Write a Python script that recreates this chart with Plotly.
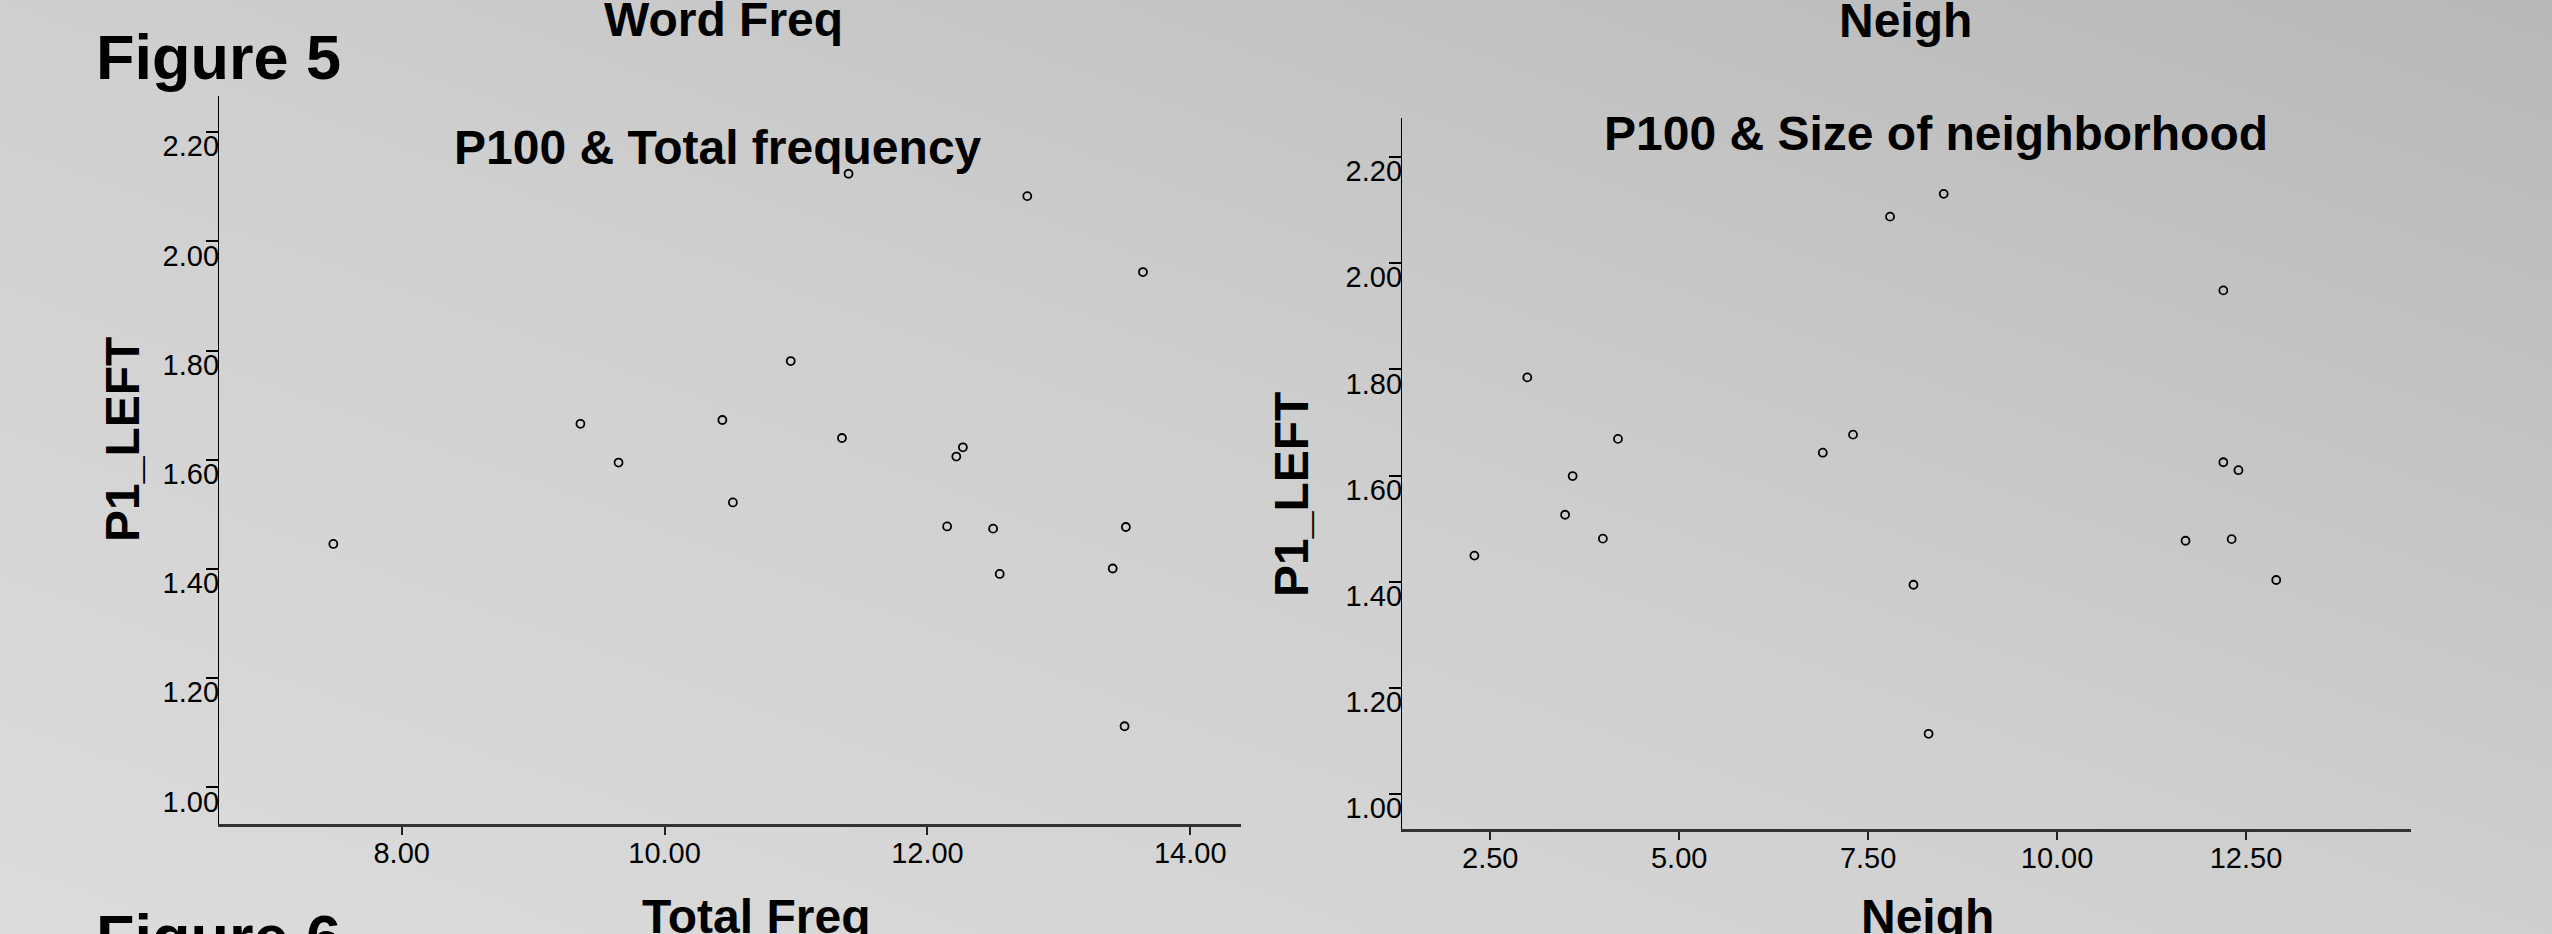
import base64
import plotly.graph_objects as go

# ---------------- data ----------------
freq_x = [11.40, 12.76, 13.64, 10.96, 9.36, 10.44, 11.35, 12.27, 12.22, 9.65,
          10.52, 7.48, 12.15, 12.50, 13.51, 12.55, 13.41, 13.50]
freq_y = [2.124, 2.083, 1.944, 1.781, 1.666, 1.673, 1.640, 1.623, 1.606, 1.595,
          1.522, 1.446, 1.478, 1.474, 1.477, 1.391, 1.401, 1.112]

neigh_x = [8.50, 7.79, 12.20, 2.99, 4.19, 7.30, 6.90, 12.20, 12.40, 3.59,
           3.49, 3.99, 2.29, 8.10, 11.70, 12.31, 12.90, 8.30]
neigh_y = [2.131, 2.088, 1.949, 1.785, 1.669, 1.677, 1.643, 1.625, 1.610, 1.599,
           1.526, 1.481, 1.449, 1.394, 1.477, 1.480, 1.403, 1.113]

y_ticks = [1.00, 1.20, 1.40, 1.60, 1.80, 2.00, 2.20]
freq_ticks = [8.00, 10.00, 12.00, 14.00]
neigh_ticks = [2.50, 5.00, 7.50, 10.00, 12.50]

W, H = 2552, 934
FONT = "Arial, Liberation Sans, sans-serif"


def px(x):
    return x / W


def py(y):
    return 1 - y / H


fig = go.Figure()

marker = dict(symbol="circle-open", size=8, color="black", line=dict(width=1.8, color="black"))
fig.add_trace(go.Scatter(x=freq_x, y=freq_y, mode="markers", marker=marker,
                         xaxis="x", yaxis="y", showlegend=False))
fig.add_trace(go.Scatter(x=neigh_x, y=neigh_y, mode="markers", marker=marker,
                         xaxis="x2", yaxis="y2", showlegend=False))

tickfont = dict(family=FONT, size=29, color="black")


def yax(domain, rng, anchor):
    return dict(domain=domain, range=rng, tickmode="array", tickvals=y_ticks,
                tickformat=".2f", ticks="outside", ticklen=12, tickwidth=2,
                tickcolor="black", showline=True, linecolor="black", linewidth=1.3,
                showgrid=False, zeroline=False, tickfont=tickfont, anchor=anchor,
                ticklabelstandoff=-19, ticklabelshift=14)


def xax(domain, rng, vals, anchor):
    return dict(domain=domain, range=rng, tickmode="array", tickvals=vals,
                tickformat=".2f", ticks="outside", ticklen=8, tickwidth=2,
                tickcolor="#222", showline=True, linecolor="#333", linewidth=2.5,
                showgrid=False, zeroline=False, tickfont=tickfont, anchor=anchor,
                ticklabelstandoff=-7)


svg = (f"<svg xmlns='http://www.w3.org/2000/svg' width='{W}' height='{H}' preserveAspectRatio='none'>"
       "<defs><linearGradient id='g' x1='0' y1='1' x2='1' y2='0'>"
       "<stop offset='0' stop-color='#dcdcdc'/><stop offset='0.5' stop-color='#cfcfcf'/>"
       "<stop offset='1' stop-color='#b8b8b8'/></linearGradient></defs>"
       f"<rect width='{W}' height='{H}' fill='url(#g)'/></svg>")
bg_src = "data:image/svg+xml;base64," + base64.b64encode(svg.encode()).decode()

fig.update_layout(
    width=W, height=H,
    margin=dict(l=0, r=0, t=0, b=0),
    paper_bgcolor="#cccccc",
    plot_bgcolor="rgba(0,0,0,0)",
    font=dict(family=FONT, color="black"),
    xaxis=xax([px(219), px(1241)], [6.61, 14.386], freq_ticks, "y"),
    yaxis=yax([py(824), py(95.7)], [0.933, 2.267], "x"),
    xaxis2=xax([px(1402), px(2410.6)], [1.332, 14.678], neigh_ticks, "y2"),
    yaxis2=yax([py(829.3), py(118)], [0.933, 2.274], "x2"),
    images=[dict(source=bg_src, xref="paper", yref="paper", x=0, y=1, sizex=1, sizey=1,
                 sizing="stretch", xanchor="left", yanchor="top", layer="below")],
)


def ann(text, x, y, size=48, xanchor="center", angle=0):
    fig.add_annotation(text=f"<b>{text}</b>", x=px(x), y=py(y), xref="paper", yref="paper",
                       xanchor=xanchor, yanchor="middle", showarrow=False, textangle=angle,
                       font=dict(family=FONT, size=size, color="black"))


ann("Figure 5", 94, 57, size=63, xanchor="left")
ann("Word Freq", 723, 19)
ann("Neigh", 1905, 20)
ann("P100 &amp; Total frequency", 718, 148)
ann("P100 &amp; Size of neighborhood", 1936, 134)
ann("P1_LEFT", 122, 440, angle=-90)
ann("P1_LEFT", 1291, 495, angle=-90)
ann("Total Freq", 756, 916)
ann("Neigh", 1927, 916)
ann("Figure 6", 94, 937, size=63, xanchor="left")

fig.write_html("out.html", config={"displayModeBar": False},
               post_script="document.body.style.margin='0';document.body.style.overflow='hidden';")
